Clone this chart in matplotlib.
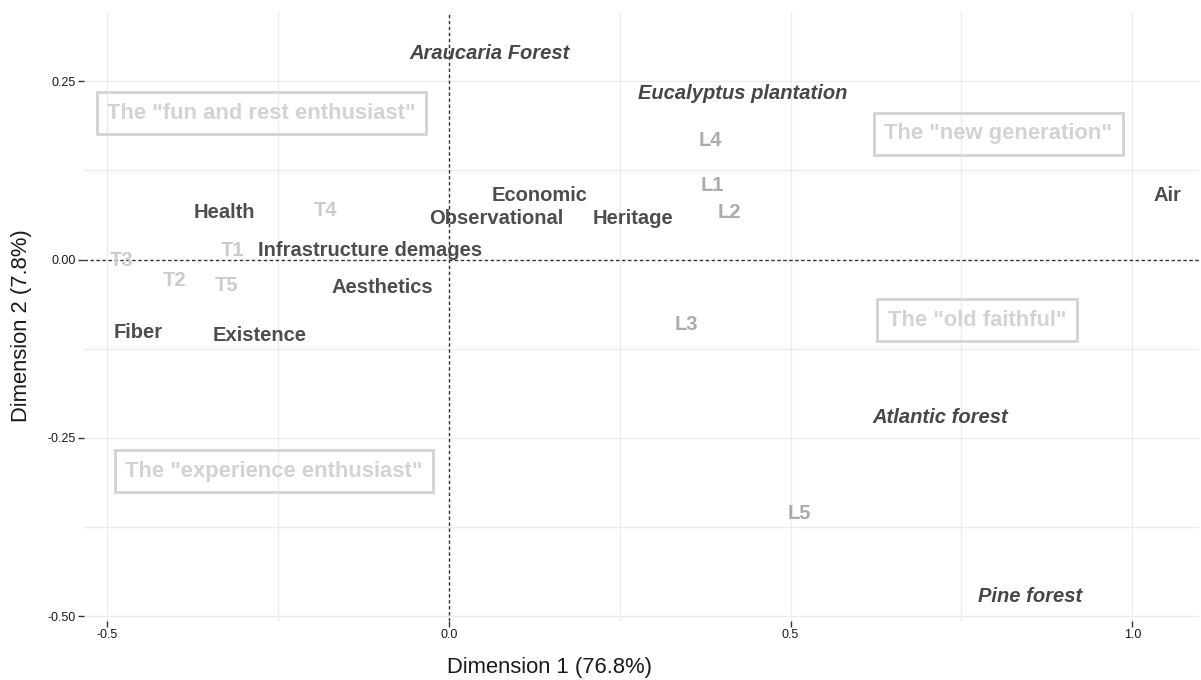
import matplotlib
matplotlib.use("Agg")
import matplotlib.pyplot as plt
import matplotlib.transforms as mtransforms

# Ecosystem service labels (dark bold)
service_labels = ["Health", "Economic", "Observational", "Heritage", "Infrastructure demages",
                  "Aesthetics", "Fiber", "Existence", "Air"]
service_x = [-0.329, 0.132, 0.069, 0.269, -0.116, -0.097, -0.454, -0.277, 1.052]
service_y = [0.068, 0.093, 0.060, 0.060, 0.016, -0.037, -0.100, -0.104, 0.093]

# Forest types (bold italic)
forest_labels = ["Araucaria Forest", "Eucalyptus plantation", "Atlantic forest", "Pine forest"]
forest_x = [0.059, 0.430, 0.719, 0.851]
forest_y = [0.291, 0.236, -0.219, -0.470]

# L groups (medium grey)
l_labels = ["L1", "L2", "L3", "L4", "L5"]
l_x = [0.385, 0.410, 0.348, 0.382, 0.513]
l_y = [0.107, 0.069, -0.089, 0.169, -0.353]

# T groups (light grey)
t_labels = ["T1", "T2", "T3", "T4", "T5"]
t_x = [-0.317, -0.402, -0.479, -0.181, -0.326]
t_y = [0.016, -0.027, 0.001, 0.072, -0.034]

# Profile boxes
profile_labels = ['The "fun and rest enthusiast"', 'The "new generation"',
                  'The "old faithful"', 'The "experience enthusiast"']
profile_x = [-0.274, 0.804, 0.773, -0.256]
profile_y = [0.205, 0.176, -0.085, -0.297]

plt.rcParams['font.family'] = ['Liberation Sans', 'DejaVu Sans']

fig = plt.figure(figsize=(12.01, 6.8), dpi=100)
ax = fig.add_axes([84 / 1201, 1 - 621 / 680, (1199 - 84) / 1201, (621 - 11.7) / 680])

ax.set_xlim(-0.534, 1.0976)
ax.set_ylim(-0.5068, 0.3474)

# grid
for gx in [-0.5, -0.25, 0.25, 0.5, 0.75, 1.0]:
    ax.axvline(gx, color='#ebebeb', lw=1.0, zorder=0)
for gy in [-0.5, -0.375, -0.25, -0.125, 0.125, 0.25]:
    ax.axhline(gy, color='#ebebeb', lw=1.0, zorder=0)

ax.axhline(0, color='#333333', lw=1.0, linestyle=(0, (2.5, 1.8)), zorder=1)
ax.axvline(0, color='#333333', lw=1.0, linestyle=(0, (2.5, 1.8)), zorder=1)

# nudge text down a couple of pixels so glyphs sit centred like ggplot
tr = ax.transData + mtransforms.ScaledTranslation(0, -2 / 100, fig.dpi_scale_trans)

fs = 14.5
for lab, x, y in zip(service_labels, service_x, service_y):
    ax.text(x, y, lab, fontsize=fs, fontweight='bold', color='#4d4d4d',
            ha='center', va='center', zorder=3, transform=tr)
for lab, x, y in zip(forest_labels, forest_x, forest_y):
    ax.text(x, y, lab, fontsize=fs, fontweight='bold', style='italic', color='#474747',
            ha='center', va='center', zorder=3, transform=tr)
for lab, x, y in zip(l_labels, l_x, l_y):
    ax.text(x, y, lab, fontsize=fs, fontweight='bold', color='#ababab',
            ha='center', va='center', zorder=3, transform=tr)
for lab, x, y in zip(t_labels, t_x, t_y):
    ax.text(x, y, lab, fontsize=fs, fontweight='bold', color='#cbcbcb',
            ha='center', va='center', zorder=3, transform=tr)
for lab, x, y in zip(profile_labels, profile_x, profile_y):
    ax.text(x, y, lab, fontsize=15.8, fontweight='bold', color='#d3d3d3',
            ha='center', va='center', zorder=3,
            bbox=dict(boxstyle='square,pad=0.48', facecolor='none',
                      edgecolor='#d3d3d3', linewidth=2.0))

ax.set_xticks([-0.5, 0.0, 0.5, 1.0])
ax.set_xticklabels(['-0.5', '0.0', '0.5', '1.0'])
ax.set_yticks([-0.5, -0.25, 0.0, 0.25])
ax.set_yticklabels(['-0.50', '-0.25', '0.00', '0.25'])
ax.tick_params(axis='both', length=4, width=1, color='#333333', labelsize=9,
               labelcolor='#1a1a1a', pad=2)
for s in ax.spines.values():
    s.set_visible(False)

ax.set_xlabel('Dimension 1 (76.8%)', fontsize=15.8, color='#1a1a1a')
ax.set_ylabel('Dimension 2 (7.8%)', fontsize=15.8, color='#1a1a1a')
ax.xaxis.set_label_coords((549.5 - 84) / (1199 - 84), -(667 - 621) / (621 - 11.7))
ax.yaxis.set_label_coords(-(84 - 22) / (1199 - 84), (621 - 326) / (621 - 11.7))
ax.xaxis.label.set_va('center')
ax.yaxis.label.set_va('center')

fig.savefig('out.png', dpi=100)
